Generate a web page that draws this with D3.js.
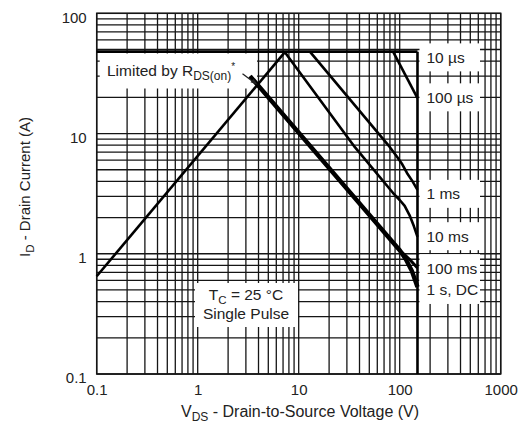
<!DOCTYPE html>
<html>
<head>
<meta charset="utf-8">
<script src="https://cdn.jsdelivr.net/npm/d3@7"></script>
<style>
  html, body { margin: 0; padding: 0; background: #fff; }
  svg text { font-family: "Liberation Sans", Arial, Helvetica, sans-serif; fill: #222; }
</style>
</head>
<body>
<svg id="chart" width="526" height="425"></svg>
<script>
// Axis extents and tick labels
const xDomain = [0.1, 1000];
const yDomain = [0.1, 100];
const xTickValues = [0.1, 1, 10, 100, 1000];
const xTickLabels = ["0.1", "1", "10", "100", "1000"];
const yTickValues = [0.1, 1, 10, 100];
const yTickLabels = ["0.1", "1", "10", "100"];

// Operating-area boundaries (V in volts, I in amps)
const rdsLimitV = [0.1, 7.3];
const rdsLimitI = [0.65, 47.5];
const pulseLimitV = [0.1, 150];
const pulseLimitI = [48, 48];
const bvdssV = [150, 150];
const bvdssI = [48, 0.1];

// Pulse-width curves
const us100V = [86, 150];
const us100I = [48, 19.7];
const ms1V = [12.9, 80, 94, 106, 118, 134, 150];
const ms1I = [48, 7.7, 6.4, 5.55, 4.7, 4.0, 3.4];
const ms10V = [7.3, 36, 86, 100, 112, 125, 138, 150];
const ms10I = [47.5, 7.7, 3.2, 2.8, 2.5, 2.1, 1.7, 1.38];
const ms100V = [3.3, 100, 125, 150];
const ms100I = [30, 1.07, 0.9, 0.76];
const dcV = [3.3, 100, 115, 132, 150];
const dcI = [30, 1.07, 0.9, 0.72, 0.53];

// Curve-end labels and the current each one sits at
const pulseLabels = ["10 µs", "100 µs", "1 ms", "10 ms", "100 ms", "1 s, DC"];
const pulseLabelI = [43, 20, 3.15, 1.4, 0.76, 0.5];

const svg = d3.select("#chart");
const plotLeft = 96.7, plotRight = 500.7, plotTop = 13.3, plotBottom = 374;

const x = d3.scaleLog().domain(xDomain).range([plotLeft, plotRight]);
const y = d3.scaleLog().domain(yDomain).range([plotBottom, plotTop]);

svg.append("rect").attr("width", 526).attr("height", 425).attr("fill", "#fff");

// Log grid: every 1..9 step in each decade
const gridX = [];
for (let d = -1; d <= 2; d++) for (let k = 1; k <= 9; k++) gridX.push(k * Math.pow(10, d));
gridX.push(1000);
const gridY = [];
for (let d = -1; d <= 1; d++) for (let k = 1; k <= 9; k++) gridY.push(k * Math.pow(10, d));
gridY.push(100);

const grid = svg.append("g").attr("stroke", "#151515").attr("stroke-width", 1.3);
grid.selectAll("line.gx").data(gridX).join("line")
  .attr("class", "gx")
  .attr("x1", d => x(d)).attr("x2", d => x(d))
  .attr("y1", plotTop).attr("y2", plotBottom);
grid.selectAll("line.gy").data(gridY).join("line")
  .attr("class", "gy")
  .attr("x1", plotLeft).attr("x2", plotRight)
  .attr("y1", d => y(d)).attr("y2", d => y(d));

svg.append("rect")
  .attr("x", plotLeft).attr("y", plotTop)
  .attr("width", plotRight - plotLeft).attr("height", plotBottom - plotTop)
  .attr("fill", "none").attr("stroke", "#151515").attr("stroke-width", 1.5);

// White panels behind annotations
const xEdge = x(150);
svg.append("rect").attr("x", plotLeft + 3).attr("y", 53.5).attr("width", 257 - plotLeft - 3).attr("height", 35).attr("fill", "#fff");
svg.append("rect").attr("x", 195).attr("y", 283).attr("width", 103).attr("height", 44).attr("fill", "#fff");
svg.selectAll("rect.lbl").data(pulseLabelI).join("rect")
  .attr("class", "lbl")
  .attr("x", xEdge + 2).attr("width", 480 - xEdge - 2)
  .attr("y", d => y(d) - 14).attr("height", 28)
  .attr("fill", "#fff");

// Curves
const path = d3.line().x(d => x(d[0])).y(d => y(d[1]));
const zip = (a, b) => a.map((v, i) => [v, b[i]]);

const curves = [
  { pts: zip(rdsLimitV, rdsLimitI), w: 2.6 },
  { pts: zip(pulseLimitV, pulseLimitI), w: 2.6 },
  { pts: zip(bvdssV, bvdssI), w: 2.6 },
  { pts: zip(us100V, us100I), w: 2.6 },
  { pts: zip(ms1V, ms1I), w: 2.6 },
  { pts: zip(ms10V, ms10I), w: 2.6 },
  { pts: zip(ms100V, ms100I), w: 3 },
  { pts: zip(dcV, dcI), w: 4.4 }
];
svg.append("g").selectAll("path").data(curves).join("path")
  .attr("d", c => path(c.pts))
  .attr("fill", "none").attr("stroke", "#000")
  .attr("stroke-width", c => c.w)
  .attr("stroke-linejoin", "round");

// Curve-end labels
svg.selectAll("text.plbl").data(pulseLabels).join("text")
  .attr("class", "plbl")
  .attr("x", xEdge + 9)
  .attr("y", (d, i) => y(pulseLabelI[i]) + 5.5)
  .attr("font-size", 15.5)
  .text(d => d);

// "Limited by RDS(on)*" note with arrow to where it meets the DC line
const lim = svg.append("text").attr("x", 107).attr("y", 76).attr("font-size", 15.5);
lim.append("tspan").text("Limited by R");
lim.append("tspan").attr("font-size", 12).attr("dy", 4).text("DS(on)");
lim.append("tspan").attr("font-size", 10).attr("dy", -10).text("*");

const kOhm = rdsLimitI[0] / rdsLimitV[0];
const lv0 = Math.log10(dcV[0]), li0 = Math.log10(dcI[0]);
const dcSlope = (Math.log10(dcI[1]) - li0) / (Math.log10(dcV[1]) - lv0);
const lvCross = (li0 - dcSlope * lv0 - Math.log10(kOhm)) / (1 - dcSlope);
const cx = x(Math.pow(10, lvCross)), cy = y(kOhm * Math.pow(10, lvCross));
svg.append("line")
  .attr("x1", cx - 15).attr("y1", cy - 11).attr("x2", cx - 3).attr("y2", cy - 2)
  .attr("stroke", "#222").attr("stroke-width", 1.3);
svg.append("path")
  .attr("d", `M${cx},${cy} l-7,-2.5 l3,-3.5 z`)
  .attr("fill", "#222");

// Test condition note
const tc = svg.append("text").attr("x", 246).attr("y", 300).attr("font-size", 15.5).attr("text-anchor", "middle");
tc.append("tspan").text("T");
tc.append("tspan").attr("font-size", 11.5).attr("dy", 4).text("C");
tc.append("tspan").attr("dy", -4).text(" = 25 °C");
svg.append("text").attr("x", 246).attr("y", 319).attr("font-size", 15.5).attr("text-anchor", "middle").text("Single Pulse");

// Axes
const xAxis = d3.axisBottom(x).tickValues(xTickValues).tickSize(0).tickPadding(10.5)
  .tickFormat((d, i) => xTickLabels[i]);
const gx = svg.append("g").attr("transform", `translate(0,${plotBottom})`).call(xAxis);
gx.select(".domain").remove();
gx.selectAll("text").attr("font-size", 15).attr("fill", "#222");
gx.attr("font-family", null);

const yAxis = d3.axisLeft(y).tickValues(yTickValues).tickSize(0).tickPadding(10)
  .tickFormat((d, i) => yTickLabels[i]);
const gy = svg.append("g").attr("transform", `translate(${plotLeft},0)`).call(yAxis);
gy.select(".domain").remove();
gy.selectAll("text").attr("font-size", 15).attr("fill", "#222").attr("dy", "0.58em");
gy.attr("font-family", null);

// Axis titles
const xt = svg.append("text").attr("x", 300).attr("y", 417).attr("font-size", 16).attr("text-anchor", "middle");
xt.append("tspan").text("V");
xt.append("tspan").attr("font-size", 12).attr("dy", 4).text("DS");
xt.append("tspan").attr("dy", -4).text(" - Drain-to-Source Voltage (V)");

const yt = svg.append("text").attr("transform", "translate(30,187) rotate(-90)").attr("font-size", 15).attr("text-anchor", "middle");
yt.append("tspan").text("I");
yt.append("tspan").attr("font-size", 11.5).attr("dy", 4).text("D");
yt.append("tspan").attr("dy", -4).text(" - Drain Current (A)");
</script>
</body>
</html>
